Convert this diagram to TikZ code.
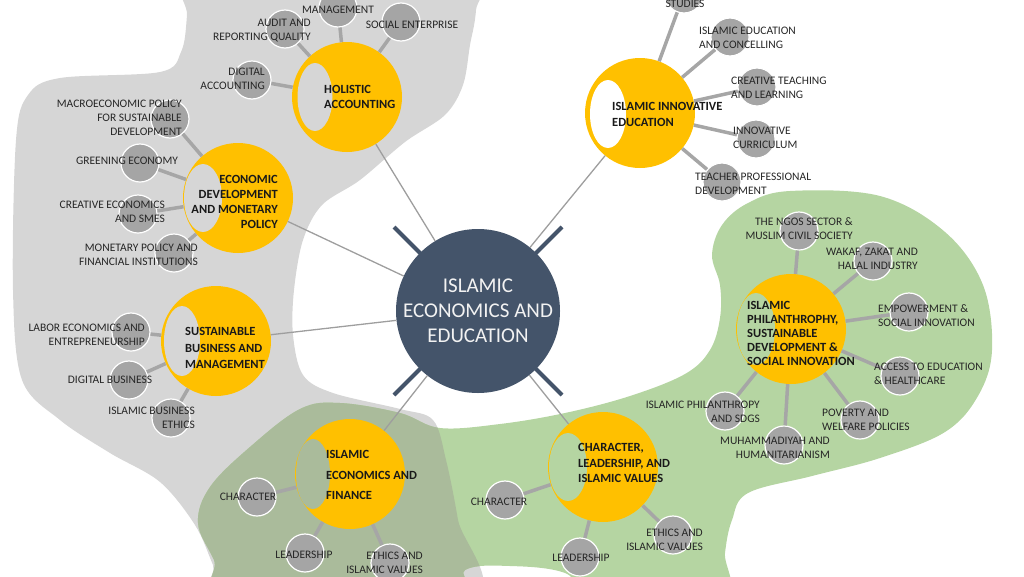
\documentclass[tikz,border=0pt]{standalone}
\usepackage{fontspec}
\setmainfont{Carlito}
\usetikzlibrary{shapes.geometric,calc}
\definecolor{blobgrey}{HTML}{D6D6D6}
\definecolor{blobgreen}{HTML}{B5D5A2}
\definecolor{overlapgreen}{HTML}{AABB9B}
\definecolor{yel}{HTML}{FFC000}
\definecolor{smallgrey}{HTML}{A5A5A5}
\definecolor{centerblue}{HTML}{44546A}
\definecolor{linegrey}{HTML}{A6A6A6}
\definecolor{txt}{HTML}{262626}
\begin{document}
\begin{tikzpicture}[x=1pt,y=-1pt,
  sc/.style={circle, fill=smallgrey, draw=white, line width=1.2pt, minimum size=38pt, inner sep=0},
  yc/.style={circle, fill=yel, minimum size=110pt, inner sep=0},
  hole/.style={ellipse, inner sep=0},
  lbl/.style={font=\fontsize{11.5}{14}\selectfont, text=txt, inner sep=0},
  ylbl/.style={font=\bfseries\fontsize{12.5}{15}\selectfont, text=black!90, inner sep=0},
  spoke/.style={draw=linegrey, line width=3.5pt},
  thinline/.style={draw=linegrey!95!black, line width=1.3pt},
  bar/.style={draw=centerblue, line width=4pt}]
\useasboundingbox (0,0) rectangle (1024,576);
\clip (0,0) rectangle (1024,576);
% background blobs
\def\greypath{plot[smooth cycle, tension=0.55] coordinates {(190,-60) (187,15) (181,52) (160,72) (60,78) (28,95) (16,140) (13,290) (22,380) (60,420) (110,453) (160,482) (195,525) (213,565) (228,600) (470,600) (458,520) (446,460) (433,420) (400,409) (333,393) (303,375) (293,335) (294,290) (303,240) (322,205) (360,180) (405,142) (445,115) (463,85) (470,45) (476,10) (478,-60)}}
\def\greenpath{plot[smooth cycle, tension=0.6] coordinates {(790,191) (880,196) (945,232) (983,285) (992,350) (978,396) (945,432) (880,458) (812,476) (748,493) (732,520) (725,553) (722,600) (600,600) (565,573) (510,566) (465,570) (452,600) (232,600) (214,560) (198,523) (210,487) (250,447) (300,409) (340,403) (400,413) (440,428) (500,424) (565,413) (630,396) (685,374) (710,350) (720,318) (720,285) (712,255) (722,225) (748,203)}}
\fill[blobgrey] \greypath;
\fill[blobgreen] \greenpath;
\begin{scope}
\clip \greypath;
\fill[overlapgreen] \greenpath;
\end{scope}
% bars behind centre
\coordinate (Cc) at (478,311);
\draw[bar] ($(Cc)+(-50,-50)$) -- ($(Cc)+(-84,-84)$);
\draw[bar] ($(Cc)+(50,-50)$) -- ($(Cc)+(84,-84)$);
\draw[bar] ($(Cc)+(-50,50)$) -- ($(Cc)+(-84,84)$);
\draw[bar] ($(Cc)+(50,50)$) -- ($(Cc)+(84,84)$);
% centre
\node[circle, fill=centerblue, minimum size=164pt, inner sep=0, text=white!95!black, font=\fontsize{21}{25}\selectfont, align=center] (C) at (478,311) {ISLAMIC\\ECONOMICS AND\\EDUCATION};
% yellow circles
\node[yc] (ha) at (347,97) {};
\node[yc] (ed) at (238,198) {};
\node[yc] (sb) at (216,341) {};
\node[yc] (ief) at (350,474) {};
\node[yc] (ch) at (603,467) {};
\node[yc] (ph) at (791,329) {};
\node[yc] (ie) at (640,113) {};
\node[hole, fill=blobgrey, minimum width=35pt, minimum height=68pt] (hah) at (315,97) {};
\node[hole, fill=blobgrey, minimum width=38pt, minimum height=68pt] (edh) at (203,198) {};
\node[hole, fill=blobgrey, minimum width=36pt, minimum height=70pt] (sbh) at (182,341) {};
\node[hole, fill=overlapgreen, minimum width=34pt, minimum height=70pt] (iefh) at (313,474) {};
\node[hole, fill=blobgreen, minimum width=38pt, minimum height=68pt] (chh) at (568,467) {};
\node[hole, fill=blobgreen, minimum width=38pt, minimum height=72pt] (phh) at (756,329) {};
\node[hole, fill=white, minimum width=36pt, minimum height=68pt] (ieh) at (608,114) {};
% centre connectors
\foreach \n in {ha,ed,sb,ief,ch,ie} \draw[thinline] (C) -- (\n);
% small circles
\node[sc] (ha1) at (338,8) {};
\node[sc] (ha2) at (285,29) {};
\node[sc] (ha3) at (401,22) {};
\node[sc] (ha4) at (252,80) {};
\node[sc] (ed1) at (170,119) {};
\node[sc] (ed2) at (140,163) {};
\node[sc] (ed3) at (138,214) {};
\node[sc] (ed4) at (174,253) {};
\node[sc] (sb1) at (131,332) {};
\node[sc] (sb2) at (129,380) {};
\node[sc] (sb3) at (171,418) {};
\node[sc] (ief1) at (257,497) {};
\node[sc] (ief2) at (305,553) {};
\node[sc] (ief3) at (390,563) {};
\node[sc] (ch1) at (505,500) {};
\node[sc] (ch2) at (580,557) {};
\node[sc] (ch3) at (673,535) {};
\node[sc] (ph1) at (799,231) {};
\node[sc] (ph2) at (873,261) {};
\node[sc] (ph3) at (909,312) {};
\node[sc] (ph4) at (900,376) {};
\node[sc] (ph5) at (860,420) {};
\node[sc] (ph6) at (784,445) {};
\node[sc] (ph7) at (725,411) {};
\node[sc] (ie1) at (684,-6) {};
\node[sc] (ie2) at (730,37) {};
\node[sc] (ie3) at (757,87) {};
\node[sc] (ie4) at (756,139) {};
\node[sc] (ie5) at (722,182) {};
% spokes
\foreach \n in {ha1,ha2,ha3,ha4} \draw[spoke] (\n) -- (ha);
\foreach \n in {ed1,ed2,ed3,ed4} \draw[spoke] (\n) -- (ed);
\foreach \n in {sb1,sb2,sb3} \draw[spoke] (\n) -- (sb);
\foreach \n in {ief1,ief2,ief3} \draw[spoke] (\n) -- (ief);
\foreach \n in {ch1,ch2,ch3} \draw[spoke] (\n) -- (ch);
\foreach \n in {ph1,ph2,ph3,ph4,ph5,ph6,ph7} \draw[spoke] (\n) -- (ph);
\foreach \n in {ie1,ie2,ie3,ie4,ie5} \draw[spoke] (\n) -- (ie);
% yellow labels
\node[ylbl, anchor=west, align=left] (hat) at (324,97) {HOLISTIC\\ACCOUNTING};
\node[ylbl, anchor=east, align=right] (edt) at (278,202) {ECONOMIC\\DEVELOPMENT\\AND MONETARY\\POLICY};
\node[ylbl, anchor=west, align=left, font=\bfseries\fontsize{12.5}{16.5}\selectfont] (sbt) at (185,348) {SUSTAINABLE\\BUSINESS AND\\MANAGEMENT};
\node[ylbl, anchor=west, align=left, font=\bfseries\fontsize{12.5}{20.5}\selectfont] (ieft) at (326,475) {ISLAMIC\\ECONOMICS AND\\FINANCE};
\node[ylbl, anchor=west, align=left, font=\bfseries\fontsize{12.5}{15.5}\selectfont] (cht) at (578,463) {CHARACTER,\\LEADERSHIP, AND\\ISLAMIC VALUES};
\node[ylbl, anchor=west, align=left, font=\bfseries\fontsize{12.5}{14}\selectfont] (pht) at (747,333) {ISLAMIC\\PHILANTHROPHY,\\SUSTAINABLE\\DEVELOPMENT \&\\SOCIAL INNOVATION};
\node[ylbl, anchor=west, align=left, font=\bfseries\fontsize{12.5}{16}\selectfont] (iet) at (612,114) {ISLAMIC INNOVATIVE\\EDUCATION};
% small labels
\node[lbl] (ha1l) at (338,10) {MANAGEMENT};
\node[lbl, anchor=east, align=right] (ha2l) at (311,31) {AUDIT AND\\REPORTING QUALITY};
\node[lbl] (ha3l) at (412,25) {SOCIAL ENTERPRISE};
\node[lbl, anchor=east, align=right] (ha4l) at (265,79) {DIGITAL\\ACCOUNTING};
\node[lbl, anchor=east, align=right] (ed1l) at (182,118) {MACROECONOMIC POLICY\\FOR SUSTAINABLE\\DEVELOPMENT};
\node[lbl] (ed2l) at (127,161) {GREENING ECONOMY};
\node[lbl, anchor=east, align=right] (ed3l) at (165,212) {CREATIVE ECONOMICS\\AND SMES};
\node[lbl, anchor=east, align=right] (ed4l) at (198,255) {MONETARY POLICY AND\\FINANCIAL INSTITUTIONS};
\node[lbl, anchor=east, align=right] (sb1l) at (145,335) {LABOR ECONOMICS AND\\ENTREPRENEURSHIP};
\node[lbl] (sb2l) at (110,380) {DIGITAL BUSINESS};
\node[lbl, anchor=east, align=right] (sb3l) at (195,418) {ISLAMIC BUSINESS\\ETHICS};
\node[lbl] (ief1l) at (248,497) {CHARACTER};
\node[lbl] (ief2l) at (304,555) {LEADERSHIP};
\node[lbl, anchor=east, align=right] (ief3l) at (423,563) {ETHICS AND\\ISLAMIC VALUES};
\node[lbl] (ch1l) at (499,502) {CHARACTER};
\node[lbl] (ch2l) at (581,558) {LEADERSHIP};
\node[lbl, anchor=east, align=right] (ch3l) at (703,540) {ETHICS AND\\ISLAMIC VALUES};
\node[lbl, anchor=east, align=right] (ph1l) at (853,229) {THE NGOS SECTOR \&\\MUSLIM CIVIL SOCIETY};
\node[lbl, anchor=east, align=right] (ph2l) at (918,259) {WAKAF, ZAKAT AND\\HALAL INDUSTRY};
\node[lbl, anchor=west, align=left] (ph3l) at (878,316) {EMPOWERMENT \&\\SOCIAL INNOVATION};
\node[lbl, anchor=west, align=left] (ph4l) at (874,374) {ACCESS TO EDUCATION\\\& HEALTHCARE};
\node[lbl, anchor=west, align=left] (ph5l) at (822,420) {POVERTY AND\\WELFARE POLICIES};
\node[lbl, anchor=east, align=right] (ph6l) at (830,448) {MUHAMMADIYAH AND\\HUMANITARIANISM};
\node[lbl, anchor=east, align=right] (ph7l) at (760,412) {ISLAMIC PHILANTHROPY\\AND SDGS};
\node[lbl] (ie1l) at (685,4) {STUDIES};
\node[lbl, anchor=west, align=left] (ie2l) at (699,38) {ISLAMIC EDUCATION\\AND CONCELLING};
\node[lbl, anchor=west, align=left] (ie3l) at (731,88) {CREATIVE TEACHING\\AND LEARNING};
\node[lbl, anchor=west, align=left] (ie4l) at (733,138) {INNOVATIVE\\CURRICULUM};
\node[lbl, anchor=west, align=left] (ie5l) at (695,184) {TEACHER PROFESSIONAL\\DEVELOPMENT};
\end{tikzpicture}
\end{document}
